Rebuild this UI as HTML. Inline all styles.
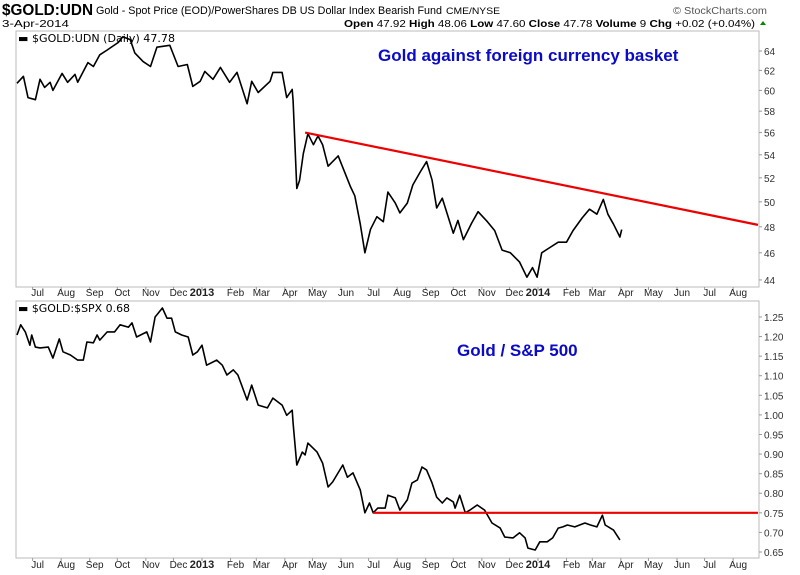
<!DOCTYPE html>
<html><head><meta charset="utf-8"><style>
body{margin:0;background:#fff;width:800px;height:575px;overflow:hidden;font-family:"Liberation Sans",sans-serif}
svg{display:block}
</style></head><body>
<svg id="chart" width="800" height="575" font-family="Liberation Sans, sans-serif">
<text x="2" y="15" font-size="16" font-weight="bold" textLength="91" lengthAdjust="spacingAndGlyphs">$GOLD:UDN</text>
<text x="96" y="14" font-size="11" textLength="346" lengthAdjust="spacingAndGlyphs">Gold - Spot Price (EOD)/PowerShares DB US Dollar Index Bearish Fund</text>
<text x="446" y="14" font-size="9" textLength="54" lengthAdjust="spacingAndGlyphs">CME/NYSE</text>
<text x="673" y="14" font-size="10" fill="#555" textLength="94" lengthAdjust="spacingAndGlyphs">© StockCharts.com</text>
<text x="2" y="27" font-size="10" textLength="67" lengthAdjust="spacingAndGlyphs">3-Apr-2014</text>
<text x="344" y="27" font-size="10" textLength="411" lengthAdjust="spacingAndGlyphs"><tspan font-weight="bold">Open</tspan> 47.92 <tspan font-weight="bold">High</tspan> 48.06 <tspan font-weight="bold">Low</tspan> 47.60 <tspan font-weight="bold">Close</tspan> 47.78 <tspan font-weight="bold">Volume</tspan> 9 <tspan font-weight="bold">Chg</tspan> +0.02 (+0.04%)</text>
<path d="M760 25 l3 -4 l3 4z" fill="#080"/>
<rect x="16" y="31" width="743" height="256" fill="none" stroke="#bbb"/>
<rect x="16" y="301" width="743" height="257" fill="none" stroke="#bbb"/>
<g id="top"></g><g id="bot"></g><g id="axes"></g>
<text x="18" y="42" font-size="11" font-family="DejaVu Sans, sans-serif" textLength="157" lengthAdjust="spacingAndGlyphs">▬ $GOLD:UDN (Daily) 47.78</text>
<text x="18" y="312" font-size="11" font-family="DejaVu Sans, sans-serif" textLength="112" lengthAdjust="spacingAndGlyphs">▬ $GOLD:$SPX 0.68</text>
<text x="378" y="61" font-size="17" font-weight="bold" fill="#0a0ac8">Gold against foreign currency basket</text>
<text x="457" y="356" font-size="17" font-weight="bold" fill="#0a0ac8">Gold / S&amp;P 500</text>
</svg>
<script>
const topDays=[-201,-194,-189,-181,-176,-171,-165,-162,-152,-146,-138,-135,-124,-118,-111,-103,-91,-86,-78,-73,-64,-56,-49,-35,-26,-16,-10,-2,3,12,20,30,38,49,54,61,74,77,87,92,98,99,103,106,110,115,121,126,131,137,148,161,166,172,177,183,190,197,202,210,215,223,229,237,244,250,255,261,266,273,278,284,293,300,310,318,326,335,345,353,359,364,369,378,387,396,403,413,421,429,436,441,447,454,456];
const topVals=[60.7,61.4,59.3,59.1,61.1,60.3,60.8,60.0,61.7,60.8,61.6,60.8,62.8,62.4,63.6,64.1,64.9,65.5,65.2,63.8,62.9,62.4,64.4,64.6,62.4,62.6,60.4,60.9,61.9,61.1,62.3,60.8,61.8,58.7,60.9,59.8,60.9,61.8,61.8,59.3,60.1,59.0,51.1,51.8,54.1,55.9,54.9,55.7,54.9,53.0,53.9,51.3,50.5,48.2,46.0,47.8,48.8,48.4,50.8,49.9,49.1,49.9,51.4,52.5,53.4,51.8,49.5,50.3,49.1,47.5,48.5,47.0,48.3,49.2,48.4,47.7,46.2,46.0,45.3,44.2,44.9,44.2,46.0,46.4,46.8,46.8,47.7,48.7,49.4,49.0,50.2,49.0,48.2,47.2,47.78];
const botDays=[-201,-197,-192,-187,-185,-181,-176,-167,-162,-155,-151,-143,-135,-129,-125,-118,-114,-111,-103,-95,-89,-80,-76,-71,-60,-56,-51,-43,-38,-33,-29,-22,-15,-10,-5,0,5,16,22,27,34,39,49,54,61,71,77,87,92,98,99,103,109,112,115,125,131,137,142,153,158,164,172,177,182,186,191,199,202,210,215,223,228,234,239,244,250,255,261,266,273,275,280,286,291,299,307,315,324,329,338,345,351,354,362,367,375,381,387,392,397,405,416,422,429,435,438,447,454];
const botVals=[1.204,1.230,1.212,1.178,1.204,1.173,1.171,1.173,1.145,1.194,1.161,1.153,1.140,1.140,1.186,1.184,1.204,1.191,1.212,1.212,1.230,1.224,1.235,1.199,1.212,1.186,1.250,1.273,1.247,1.247,1.212,1.204,1.199,1.153,1.161,1.178,1.127,1.140,1.127,1.102,1.115,1.102,1.038,1.076,1.025,1.018,1.043,1.025,0.999,1.012,0.979,0.872,0.905,0.898,0.928,0.905,0.877,0.816,0.829,0.872,0.841,0.852,0.808,0.750,0.775,0.750,0.762,0.762,0.795,0.788,0.757,0.783,0.826,0.834,0.867,0.859,0.826,0.790,0.775,0.788,0.778,0.762,0.795,0.750,0.757,0.770,0.757,0.724,0.711,0.688,0.686,0.699,0.686,0.660,0.655,0.676,0.676,0.686,0.711,0.714,0.719,0.714,0.724,0.719,0.714,0.744,0.719,0.706,0.681];
const topTicks=[44,46,48,50,52,54,56,58,60,62,64];
const botTicks=[0.65,0.70,0.75,0.80,0.85,0.90,0.95,1.00,1.05,1.10,1.15,1.20,1.25];
const monthLabels=["Jul","Aug","Sep","Oct","Nov","Dec","2013","Feb","Mar","Apr","May","Jun","Jul","Aug","Sep","Oct","Nov","Dec","2014","Feb","Mar","Apr","May","Jun","Jul","Aug"];
const trendTop=[[112,56.0],[604,48.15]];
const trendBot=[[186,0.75],[604,0.75]];

const NS="http://www.w3.org/2000/svg";
const xS=d=>202+d*0.9205;
const yTop=v=>51+Math.log(64/v)*611;
const yBot=v=>552-(v-0.65)*391.7;
function mk(tag,attrs,parent){const e=document.createElementNS(NS,tag);for(const k in attrs)e.setAttribute(k,attrs[k]);parent.appendChild(e);return e;}
const gT=document.getElementById('top'),gB=document.getElementById('bot'),gA=document.getElementById('axes');
function drawLine(days,vals,ys,g,name){
  const d=days.map((x,i)=>(i?'L':'M')+xS(x).toFixed(1)+' '+ys(vals[i]).toFixed(1)).join(' ');
  const p=mk('path',{d:d,fill:'none',stroke:'#000','stroke-width':1.6,'stroke-linejoin':'round'},g);
  
  
}
drawLine(topDays,topVals,yTop,gT,'gold-udn-line');
drawLine(botDays,botVals,yBot,gB,'gold-spx-line');
const t1=mk('line',{x1:xS(trendTop[0][0]),y1:yTop(trendTop[0][1]),x2:xS(trendTop[1][0]),y2:yTop(trendTop[1][1]),stroke:'#e00','stroke-width':2.2},gT);


const t2=mk('line',{x1:xS(trendBot[0][0]),y1:yBot(trendBot[0][1]),x2:xS(trendBot[1][0]),y2:yBot(trendBot[1][1]),stroke:'#e00','stroke-width':2.2},gB);


topTicks.forEach(v=>{const y=yTop(v);
  mk('line',{x1:759,y1:y,x2:762,y2:y,stroke:'#999'},gA);
  const t=mk('text',{x:764,y:y+4,'font-size':10,fill:'#333'},gA);t.textContent=v;
  
  });
botTicks.forEach(v=>{const y=yBot(v);
  mk('line',{x1:759,y1:y,x2:762,y2:y,stroke:'#999'},gA);
  const t=mk('text',{x:764,y:y+4,'font-size':10,fill:'#333'},gA);t.textContent=v.toFixed(2);
  
  });
const base=Date.UTC(2013,0,1);
monthLabels.forEach((m,i)=>{
  const dt=Date.UTC(2012,6+i,1);const d=(dt-base)/864e5;const yr=/^\d{4}$/.test(m);
  const x=xS(d)+(yr?0:5);
  [296,568].forEach(y=>{
    mk('line',{x1:xS(d),y1:y===296?287:558,x2:xS(d),y2:y===296?290:561,stroke:'#999'},gA);
    const t=mk('text',{x:x,y:y,'font-size':yr?11:10,'font-weight':yr?'bold':'normal','text-anchor':'middle',fill:'#222'},gA);
    t.textContent=m;
    
    
  });
});
</script>
</body></html>
